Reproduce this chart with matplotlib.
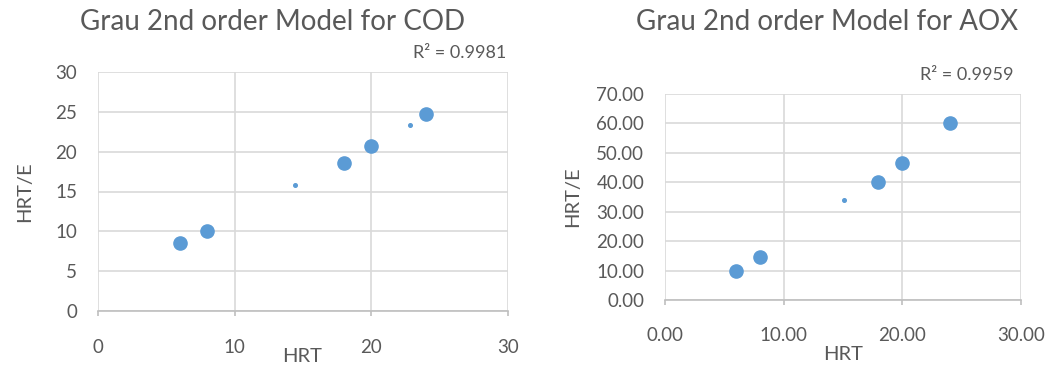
import matplotlib.pyplot as plt
import numpy as np

plt.rcParams['font.family'] = ['Lato', 'DejaVu Sans']

# COD data
hrt_cod = [6, 8, 18, 20, 24]
hrt_e_cod = [8.5, 10.0, 18.6, 20.7, 24.7]
hrt_cod_small = [14.4, 22.8]
hrt_e_cod_small = [15.8, 23.3]

# AOX data
hrt_aox = [6, 8, 18, 20, 24]
hrt_e_aox = [9.8, 14.7, 40.0, 46.6, 60.0]
hrt_aox_small = [15.1]
hrt_e_aox_small = [34.0]

W, H = 1048, 367
text_col = '#595959'
grid_col = '#d9d9d9'
dot_col = '#5b9bd5'

fig = plt.figure(figsize=(W / 100, H / 100), dpi=100)


def make_axes(px_left, px_top, px_right, px_bottom):
    return fig.add_axes([px_left / W, 1 - px_bottom / H,
                         (px_right - px_left) / W, (px_bottom - px_top) / H])


def style(ax, xlim, ylim, xticks, yticks, fmt, xpad):
    ax.set_xlim(*xlim)
    ax.set_ylim(*ylim)
    ax.set_xticks(xticks)
    ax.set_yticks(yticks)
    ax.set_xticklabels([fmt % v for v in xticks])
    ax.set_yticklabels([fmt % v for v in yticks])
    ax.grid(True, color=grid_col, linewidth=1.2)
    ax.set_axisbelow(True)
    for s in ['top', 'right', 'left']:
        ax.spines[s].set_visible(False)
    ax.spines['bottom'].set_color('#bfbfbf')
    ax.spines['bottom'].set_linewidth(1.2)
    ax.tick_params(axis='x', colors='#bfbfbf', length=3.5, width=1.2,
                   labelcolor=text_col, labelsize=13.5, pad=xpad)
    ax.tick_params(axis='y', length=0, labelcolor=text_col, labelsize=13.5, pad=15)


# left chart
ax1 = make_axes(98, 72, 508, 311)
style(ax1, (0, 30), (0, 30), [0, 10, 20, 30], np.arange(0, 31, 5), '%d', 17)
ax1.plot(hrt_cod, hrt_e_cod, 'o', color=dot_col, markersize=9.5, clip_on=False)
ax1.plot(hrt_cod_small, hrt_e_cod_small, 'o', color=dot_col, markersize=2.6)
fig.text(273 / W, 1 - 22 / H, 'Grau 2nd order Model for COD', ha='center', va='center',
         fontsize=20, color=text_col)
fig.text(506 / W, 1 - 53 / H, 'R² = 0.9981', ha='right', va='center',
         fontsize=13, color=text_col)
fig.text(302 / W, 1 - 357 / H, 'HRT', ha='center', va='center', fontsize=14.5, color=text_col)
fig.text(25 / W, 1 - 192 / H, 'HRT/E', ha='center', va='center', rotation=90,
         fontsize=14.5, color=text_col)

# right chart
ax2 = make_axes(665, 94, 1020.7, 300)
style(ax2, (0, 30), (0, 70), [0, 10, 20, 30], np.arange(0, 71, 10), '%.2f', 16)
ax2.plot(hrt_aox, hrt_e_aox, 'o', color=dot_col, markersize=9.5, clip_on=False)
ax2.plot(hrt_aox_small, hrt_e_aox_small, 'o', color=dot_col, markersize=2.6)
fig.text(827 / W, 1 - 22 / H, 'Grau 2nd order Model for AOX', ha='center', va='center',
         fontsize=20, color=text_col)
fig.text(1014 / W, 1 - 75 / H, 'R² = 0.9959', ha='right', va='center',
         fontsize=13, color=text_col)
fig.text(843 / W, 1 - 355 / H, 'HRT', ha='center', va='center', fontsize=14.5, color=text_col)
fig.text(573 / W, 1 - 197 / H, 'HRT/E', ha='center', va='center', rotation=90,
         fontsize=14.5, color=text_col)

fig.savefig('out.png', dpi=100)
